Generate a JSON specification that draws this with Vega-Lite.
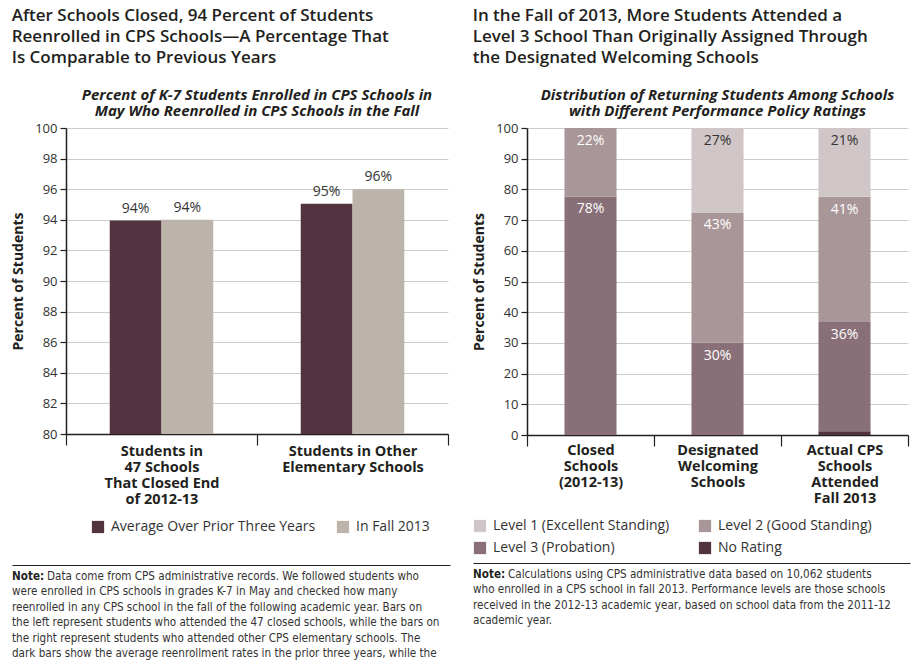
{
  "$schema": "https://vega.github.io/schema/vega-lite/v6.json",
  "padding": {"left": 11, "top": 7, "right": 5, "bottom": 0},
  "background": "white",
  "config": {
    "font": "Open Sans",
    "view": {"stroke": null},
    "axis": {
      "labelFont": "Open Sans", "labelFontSize": 13, "labelColor": "#333333",
      "titleFont": "Open Sans", "titleFontSize": 14, "titleFontWeight": "bold", "titleColor": "#231f20",
      "domainColor": "#231f20", "domainWidth": 1.5, "tickColor": "#231f20", "tickWidth": 1.2,
      "gridColor": "#cccccc", "gridWidth": 1
    },
    "legend": {
      "labelFont": "Open Sans", "labelFontSize": 14, "labelColor": "#333333",
      "symbolType": "square", "symbolSize": 150, "symbolStrokeWidth": 0, "labelLimit": 0, "title": null
    },
    "title": {"font": "Open Sans", "color": "#231f20"}
  },
  "spacing": -32,
  "resolve": {"scale": {"x": "independent", "y": "independent", "color": "independent"}, "axis": {"x": "independent", "y": "independent"}, "legend": {"color": "independent"}},
  "hconcat": [
    {
      "title": {
        "text": ["After Schools Closed, 94 Percent of Students", "Reenrolled in CPS Schools\u2014A Percentage That", "Is Comparable to Previous Years"],
        "anchor": "start", "frame": "bounds", "fontSize": 17, "fontWeight": 600, "lineHeight": 21, "offset": 21
      },
      "spacing": 31,
      "resolve": {"scale": {"x": "independent", "y": "independent", "color": "independent"}, "axis": {"x": "independent", "y": "independent"}, "legend": {"color": "independent"}},
      "vconcat": [
        {
          "width": 382, "height": 306,
          "title": {
            "text": ["Percent of K-7 Students Enrolled in CPS Schools in", "May Who Reenrolled in CPS Schools in the Fall"],
            "anchor": "middle", "frame": "group", "fontSize": 15, "fontWeight": "bold", "fontStyle": "italic", "lineHeight": 16, "offset": 3
          },
          "data": {"values": [
            {"group": "Students in 47 Schools That Closed End of 2012-13", "period": "Average Over Prior Three Years", "value": 93.95, "label": "94%"},
            {"group": "Students in 47 Schools That Closed End of 2012-13", "period": "In Fall 2013", "value": 94.0, "label": "94%"},
            {"group": "Students in Other Elementary Schools", "period": "Average Over Prior Three Years", "value": 95.05, "label": "95%"},
            {"group": "Students in Other Elementary Schools", "period": "In Fall 2013", "value": 96.0, "label": "96%"}
          ]},
          "encoding": {
            "x": {
              "field": "group", "type": "nominal", "sort": null,
              "scale": {"paddingInner": 0, "paddingOuter": 0},
              "axis": {
                "title": null, "labelAngle": 0, "tickBand": "extent", "tickSize": 11, "labelPadding": -1,
                "labelFontWeight": "bold", "labelFontSize": 14.5, "labelColor": "#231f20", "labelLineHeight": 16, "labelLimit": 0,
                "labelExpr": "datum.index < 0 ? '' : datum.value == 'Students in Other Elementary Schools' ? ['Students in Other', 'Elementary Schools'] : ['Students in', '47 Schools', 'That Closed End', 'of 2012-13']"
              }
            },
            "xOffset": {"field": "period", "type": "nominal", "sort": ["Average Over Prior Three Years", "In Fall 2013"], "scale": {"paddingOuter": 0.845, "paddingInner": 0}},
            "y": {
              "field": "value", "type": "quantitative",
              "scale": {"domain": [80, 100], "nice": false, "zero": false},
              "axis": {"title": "Percent of Students", "values": [80, 82, 84, 86, 88, 90, 92, 94, 96, 98, 100], "grid": true, "labelOverlap": false, "tickSize": 6, "labelPadding": 3, "titlePadding": 9}
            }
          },
          "layer": [
            {
              "mark": {"type": "bar"},
              "encoding": {
                "y2": {"datum": 80},
                "color": {
                  "field": "period", "type": "nominal",
                  "scale": {"domain": ["Average Over Prior Three Years", "In Fall 2013"], "range": ["#533340", "#bcb4ab"]},
                  "legend": {"orient": "none", "legendX": 25, "legendY": 392, "direction": "horizontal", "columnPadding": 20, "labelOffset": 6}
                }
              }
            },
            {
              "mark": {"type": "text", "dy": -12, "baseline": "middle", "fontSize": 14, "color": "#333333"},
              "encoding": {"text": {"field": "label"}}
            }
          ]
        },
        {
          "width": 384, "height": 97,
          "data": {"values": [
            {"line": 1, "text": "Data come from CPS administrative records. We followed students who"},
            {"line": 2, "text": "were enrolled in CPS schools in grades K-7 in May and checked how many"},
            {"line": 3, "text": "reenrolled in any CPS school in the fall of the following academic year. Bars on"},
            {"line": 4, "text": "the left represent students who attended the 47 closed schools, while the bars on"},
            {"line": 5, "text": "the right represent students who attended other CPS elementary schools. The"},
            {"line": 6, "text": "dark bars show the average reenrollment rates in the prior three years, while the"}
          ]},
          "encoding": {
            "x": {"datum": 0, "type": "quantitative", "scale": {"domain": [0, 1], "range": [-54, 384]}, "axis": {"orient": "top", "title": null, "labels": false, "ticks": false, "grid": false, "domainColor": "#231f20", "domainWidth": 1.2}},
            "y": {"field": "line", "type": "ordinal", "scale": {"type": "point", "range": [12, 89], "padding": 0}, "axis": null}
          },
          "layer": [
            {"transform": [{"filter": "datum.line > 1"}], "mark": {"type": "text", "align": "left", "baseline": "middle", "font": "DejaVu Sans Condensed, Roboto", "fontSize": 11.6, "color": "#333333"}, "encoding": {"text": {"field": "text"}}},
            {"transform": [{"filter": "datum.line == 1"}], "mark": {"type": "text", "align": "left", "baseline": "middle", "dx": 35, "font": "DejaVu Sans Condensed, Roboto", "fontSize": 11.6, "color": "#333333"}, "encoding": {"text": {"field": "text"}}},
            {"transform": [{"filter": "datum.line == 1"}], "mark": {"type": "text", "text": "Note:", "align": "left", "baseline": "middle", "font": "DejaVu Sans Condensed, Roboto", "fontWeight": "bold", "fontSize": 11.6, "color": "#231f20"}, "encoding": {}}
          ]
        }
      ]
    },
    {
      "title": {
        "text": ["In the Fall of 2013, More Students Attended a", "Level 3 School Than Originally Assigned Through", "the Designated Welcoming Schools"],
        "anchor": "start", "frame": "bounds", "fontSize": 17, "fontWeight": 600, "lineHeight": 21, "offset": 21
      },
      "spacing": 8,
      "resolve": {"scale": {"x": "independent", "y": "independent", "color": "independent"}, "axis": {"x": "independent", "y": "independent"}, "legend": {"color": "independent"}},
      "vconcat": [
        {
          "width": 381, "height": 307,
          "title": {
            "text": ["Distribution of Returning Students Among Schools", "with Different Performance Policy Ratings"],
            "anchor": "middle", "frame": "group", "fontSize": 15, "fontWeight": "bold", "fontStyle": "italic", "lineHeight": 16, "offset": 3
          },
          "data": {"values": [
            {"school": "Closed Schools (2012-13)", "level": "Level 3 (Probation)", "value": 77.7, "label": "78%"},
            {"school": "Closed Schools (2012-13)", "level": "Level 2 (Good Standing)", "value": 22.3, "label": "22%"},
            {"school": "Designated Welcoming Schools", "level": "Level 3 (Probation)", "value": 30.1, "label": "30%"},
            {"school": "Designated Welcoming Schools", "level": "Level 2 (Good Standing)", "value": 42.4, "label": "43%"},
            {"school": "Designated Welcoming Schools", "level": "Level 1 (Excellent Standing)", "value": 27.5, "label": "27%"},
            {"school": "Actual CPS Schools Attended Fall 2013", "level": "No Rating", "value": 1.2, "label": ""},
            {"school": "Actual CPS Schools Attended Fall 2013", "level": "Level 3 (Probation)", "value": 35.6, "label": "36%"},
            {"school": "Actual CPS Schools Attended Fall 2013", "level": "Level 2 (Good Standing)", "value": 40.8, "label": "41%"},
            {"school": "Actual CPS Schools Attended Fall 2013", "level": "Level 1 (Excellent Standing)", "value": 22.4, "label": "21%"}
          ]},
          "transform": [
            {"stack": "value", "groupby": ["school"], "sort": [{"field": "level", "order": "descending"}], "as": ["v0", "v1"]}
          ],
          "encoding": {
            "x": {
              "field": "school", "type": "nominal", "sort": null,
              "scale": {"paddingInner": 0, "paddingOuter": 0},
              "axis": {
                "title": null, "labelAngle": 0, "tickBand": "extent", "tickSize": 11, "labelPadding": -3,
                "labelFontWeight": "bold", "labelFontSize": 14.5, "labelColor": "#231f20", "labelLineHeight": 16, "labelLimit": 0,
                "labelExpr": "datum.index < 0 ? '' : datum.value == 'Closed Schools (2012-13)' ? ['Closed', 'Schools', '(2012-13)'] : datum.value == 'Designated Welcoming Schools' ? ['Designated', 'Welcoming', 'Schools'] : ['Actual CPS', 'Schools', 'Attended', 'Fall 2013']"
              }
            },
            "y": {
              "field": "v0", "type": "quantitative",
              "scale": {"domain": [0, 100], "nice": false},
              "axis": {"title": "Percent of Students", "values": [0, 10, 20, 30, 40, 50, 60, 70, 80, 90, 100], "grid": true, "labelOverlap": false, "tickSize": 6, "labelPadding": 3, "titlePadding": 9}
            }
          },
          "layer": [
            {
              "mark": {"type": "bar", "width": {"band": 0.41}},
              "encoding": {
                "y2": {"field": "v1"},
                "color": {
                  "field": "level", "type": "nominal",
                  "scale": {"domain": ["Level 1 (Excellent Standing)", "Level 2 (Good Standing)", "Level 3 (Probation)", "No Rating"], "range": ["#d0c5c7", "#a99698", "#896f77", "#533340"]},
                  "legend": {"orient": "none", "legendX": -54, "legendY": 391, "columns": 2, "direction": "horizontal", "columnPadding": 28, "rowPadding": 8, "labelOffset": 6}
                }
              }
            },
            {
              "transform": [{"filter": "datum.label != ''"}],
              "mark": {"type": "text", "dy": 13, "baseline": "middle", "fontSize": 14},
              "encoding": {
                "y": {"field": "v1", "type": "quantitative", "axis": {"title": "Percent of Students", "values": [0, 10, 20, 30, 40, 50, 60, 70, 80, 90, 100], "grid": true, "labelOverlap": false, "tickSize": 6, "labelPadding": 3, "titlePadding": 9}},
                "text": {"field": "label"},
                "color": {"condition": {"test": "datum.level == 'Level 1 (Excellent Standing)'", "value": "#333333"}, "value": "#ffffff"}
              }
            }
          ]
        },
        {
          "width": 383, "height": 97,
          "data": {"values": [
            {"line": 1, "text": "Calculations using CPS administrative data based on 10,062 students"},
            {"line": 2, "text": "who enrolled in a CPS school in fall 2013. Performance levels are those schools"},
            {"line": 3, "text": "received in the 2012-13 academic year, based on school data from the 2011-12"},
            {"line": 4, "text": "academic year."}
          ]},
          "encoding": {
            "x": {"datum": 0, "type": "quantitative", "scale": {"domain": [0, 1], "range": [-54, 383]}, "axis": {"orient": "top", "title": null, "labels": false, "ticks": false, "grid": false, "domainColor": "#231f20", "domainWidth": 1.2}},
            "y": {"field": "line", "type": "ordinal", "scale": {"type": "point", "range": [12, 58.2], "padding": 0}, "axis": null}
          },
          "layer": [
            {"transform": [{"filter": "datum.line > 1"}], "mark": {"type": "text", "align": "left", "baseline": "middle", "font": "DejaVu Sans Condensed, Roboto", "fontSize": 11.6, "color": "#333333"}, "encoding": {"text": {"field": "text"}}},
            {"transform": [{"filter": "datum.line == 1"}], "mark": {"type": "text", "align": "left", "baseline": "middle", "dx": 35, "font": "DejaVu Sans Condensed, Roboto", "fontSize": 11.6, "color": "#333333"}, "encoding": {"text": {"field": "text"}}},
            {"transform": [{"filter": "datum.line == 1"}], "mark": {"type": "text", "text": "Note:", "align": "left", "baseline": "middle", "font": "DejaVu Sans Condensed, Roboto", "fontWeight": "bold", "fontSize": 11.6, "color": "#231f20"}, "encoding": {}}
          ]
        }
      ]
    }
  ]
}
